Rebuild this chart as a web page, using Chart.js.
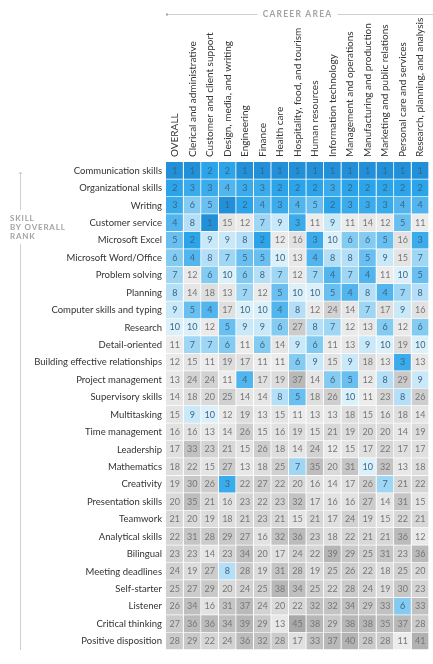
<!DOCTYPE html>
<html>
<head>
<meta charset="utf-8">
<title>Skills by career area</title>
<script src="https://cdn.jsdelivr.net/npm/chart.js@4.4.0/dist/chart.umd.min.js"></script>
<style>
  body { margin: 0; background: #fff; }
</style>
</head>
<body>
<canvas id="skillChart" width="433" height="664"></canvas>
<script>
// skills, in overall rank order
const skills = [
  "Communication skills", "Organizational skills", "Writing", "Customer service",
  "Microsoft Excel", "Microsoft Word/Office", "Problem solving", "Planning",
  "Computer skills and typing", "Research", "Detail-oriented",
  "Building effective relationships", "Project management", "Supervisory skills",
  "Multitasking", "Time management", "Leadership", "Mathematics", "Creativity",
  "Presentation skills", "Teamwork", "Analytical skills", "Bilingual",
  "Meeting deadlines", "Self-starter", "Listener", "Critical thinking",
  "Positive disposition"
];

const careers = [
  "OVERALL", "Clerical and administrative", "Customer and client support",
  "Design, media, and writing", "Engineering", "Finance", "Health care",
  "Hospitality, food, and tourism", "Human resources", "Information technology",
  "Management and operations", "Manufacturing and production",
  "Marketing and public relations", "Personal care and services",
  "Research, planning, and analysis"
];

// rank of each skill (same order as skills) within each career area
const overall       = [1, 2, 3, 4, 5, 6, 7, 8, 9, 10, 11, 12, 13, 14, 15, 16, 17, 18, 19, 20, 21, 22, 23, 24, 25, 26, 27, 28];
const clerical      = [1, 3, 6, 8, 2, 4, 12, 14, 5, 10, 7, 15, 24, 18, 9, 16, 33, 22, 30, 35, 20, 31, 23, 19, 27, 34, 36, 29];
const customer      = [2, 3, 5, 1, 9, 8, 6, 18, 4, 12, 7, 11, 24, 20, 10, 13, 23, 15, 26, 21, 19, 28, 14, 27, 29, 16, 36, 22];
const design        = [2, 4, 1, 15, 9, 7, 10, 13, 17, 5, 6, 19, 11, 25, 12, 14, 21, 27, 3, 16, 18, 29, 23, 8, 20, 31, 34, 24];
const engineering   = [1, 3, 2, 12, 8, 5, 6, 7, 10, 9, 11, 17, 4, 14, 19, 26, 15, 13, 22, 23, 21, 27, 34, 28, 24, 37, 39, 36];
const finance       = [1, 3, 4, 7, 2, 5, 8, 12, 10, 9, 6, 11, 17, 14, 13, 15, 26, 18, 27, 22, 23, 16, 20, 19, 25, 24, 29, 32];
const healthCare    = [1, 2, 3, 9, 12, 10, 7, 5, 4, 6, 14, 11, 19, 8, 15, 16, 18, 25, 22, 23, 21, 32, 17, 31, 38, 20, 13, 28];
const hospitality   = [1, 2, 4, 3, 16, 13, 12, 10, 8, 27, 9, 6, 37, 5, 11, 19, 14, 7, 20, 32, 15, 36, 24, 28, 34, 22, 45, 17];
const humanRes      = [1, 2, 5, 11, 3, 4, 7, 10, 12, 8, 6, 9, 14, 18, 13, 15, 24, 35, 16, 17, 21, 23, 22, 19, 25, 32, 38, 33];
const infoTech      = [1, 3, 2, 9, 10, 8, 4, 5, 24, 7, 11, 15, 6, 26, 13, 21, 12, 20, 14, 16, 17, 18, 39, 25, 22, 32, 29, 37];
const management    = [1, 2, 3, 11, 6, 8, 7, 4, 14, 12, 13, 9, 5, 10, 18, 19, 15, 31, 17, 16, 24, 22, 29, 26, 28, 34, 38, 40];
const manufacturing = [1, 2, 3, 14, 6, 5, 4, 8, 7, 13, 9, 18, 12, 11, 15, 20, 17, 10, 26, 27, 19, 21, 25, 22, 24, 29, 38, 28];
const marketing     = [1, 2, 3, 12, 5, 9, 11, 4, 17, 6, 10, 13, 8, 23, 16, 20, 22, 32, 7, 14, 15, 21, 31, 18, 19, 33, 35, 28];
const personalCare  = [1, 2, 4, 5, 16, 15, 10, 7, 9, 12, 19, 3, 29, 8, 18, 14, 17, 13, 21, 31, 22, 36, 23, 25, 30, 6, 37, 11];
const research      = [1, 2, 4, 11, 3, 7, 5, 8, 16, 6, 10, 13, 9, 26, 14, 19, 17, 18, 22, 15, 21, 12, 36, 20, 23, 33, 28, 41];

const rankColumns = [overall, clerical, customer, design, engineering, finance, healthCare,
  hospitality, humanRes, infoTech, management, manufacturing, marketing, personalCare, research];

const FONT = "Lato, 'Open Sans', sans-serif";

// top ten ranks in blues, the rest in greys that darken with rank
const blues = ["#2290d8", "#2ca4ea", "#3aabeb", "#52b5ee", "#68bff0",
  "#84cbf2", "#9fd6f4", "#b5dff6", "#c9e8f8", "#dcf0fa"];
function rankColor(r) {
  if (r <= 10) return blues[r - 1];
  const g = Math.round(236 - (r - 11) * 67 / 34);
  return `rgb(${g},${g},${g})`;
}

// numbers in the cells + rotated career names above each column
const cellLabels = {
  id: "cellLabels",
  afterDatasetsDraw(chart) {
    const { ctx, chartArea: a } = chart;
    ctx.save();
    ctx.textBaseline = "middle";
    chart.data.datasets.forEach((ds, i) => {
      const bars = chart.getDatasetMeta(i).data;
      ctx.font = `9px ${FONT}`;
      ctx.textAlign = "center";
      bars.forEach((bar, j) => {
        const r = ds.ranks[j];
        ctx.fillStyle = r <= 10 ? "#3b6686" : "#777";
        ctx.fillText(r, (bar.x + bar.base) / 2, bar.y);
      });
      // column header
      ctx.save();
      ctx.translate((bars[0].x + bars[0].base) / 2, a.top - 5);
      ctx.rotate(-Math.PI / 2);
      ctx.font = `10px ${FONT}`;
      ctx.textAlign = "left";
      ctx.fillStyle = "#333";
      ctx.fillText(ds.label, 0, 0);
      ctx.restore();
    });
    ctx.restore();
  }
};

// "CAREER AREA" rule and the left "SKILL BY OVERALL RANK" axis
const decor = {
  id: "decor",
  afterDraw(chart) {
    const { ctx, chartArea: a } = chart;
    ctx.save();
    ctx.strokeStyle = "#cfcfcf";
    ctx.fillStyle = "#a3a3a3";
    ctx.lineWidth = 1;

    const cx = (a.left + a.right) / 2, ty = 14;
    ctx.font = `bold 8.5px ${FONT}`;
    ctx.letterSpacing = "1.2px";
    ctx.textAlign = "center";
    ctx.textBaseline = "middle";
    const tw = ctx.measureText("CAREER AREA").width;
    ctx.fillText("CAREER AREA", cx, ty);
    ctx.beginPath();
    ctx.moveTo(a.left + 1, ty + 0.5);
    ctx.lineTo(cx - tw / 2 - 5, ty + 0.5);
    ctx.moveTo(cx + tw / 2 + 5, ty + 0.5);
    ctx.lineTo(chart.width, ty + 0.5);
    ctx.stroke();
    ctx.fillRect(a.left, ty - 0.5, 2, 2);

    const lx = 20.5;
    ctx.beginPath();
    ctx.moveTo(lx, a.top + 10);
    ctx.lineTo(lx, 210);
    ctx.moveTo(lx, 244);
    ctx.lineTo(lx, a.bottom);
    ctx.moveTo(lx - 1.5, a.top + 12);
    ctx.lineTo(lx, a.top + 10);
    ctx.lineTo(lx + 1.5, a.top + 12);
    ctx.stroke();

    ctx.font = `bold 8px ${FONT}`;
    ctx.letterSpacing = "0.8px";
    ctx.textAlign = "left";
    ["SKILL", "BY OVERALL", "RANK"].forEach((t, k) => ctx.fillText(t, 10, 218 + k * 9));
    ctx.restore();
  }
};

new Chart(document.getElementById("skillChart"), {
  type: "bar",
  data: {
    labels: skills,
    datasets: careers.map((name, i) => ({
      label: name,
      ranks: rankColumns[i],
      data: rankColumns[i].map(() => 1), // one unit-wide cell per skill
      backgroundColor: (c) => rankColor(rankColumns[i][c.dataIndex]),
      borderColor: "#fff",
      borderWidth: { top: 0, left: 0, right: 1, bottom: 1 },
      borderSkipped: false,
      barPercentage: 1,
      categoryPercentage: 1
    }))
  },
  options: {
    indexAxis: "y",
    responsive: false,
    animation: false,
    devicePixelRatio: 1,
    layout: { padding: { top: 162, right: 4, bottom: 14, left: 0 } },
    plugins: { legend: { display: false }, tooltip: { enabled: false } },
    scales: {
      x: { type: "linear", stacked: true, min: 0, max: careers.length, display: false },
      y: {
        stacked: true,
        grid: { display: false, drawTicks: false },
        border: { display: false },
        ticks: { autoSkip: false, padding: 4, color: "#333", font: { family: FONT, size: 9.5 } },
        afterFit: (s) => { s.width = 166; }
      }
    }
  },
  plugins: [cellLabels, decor]
});
</script>
</body>
</html>
